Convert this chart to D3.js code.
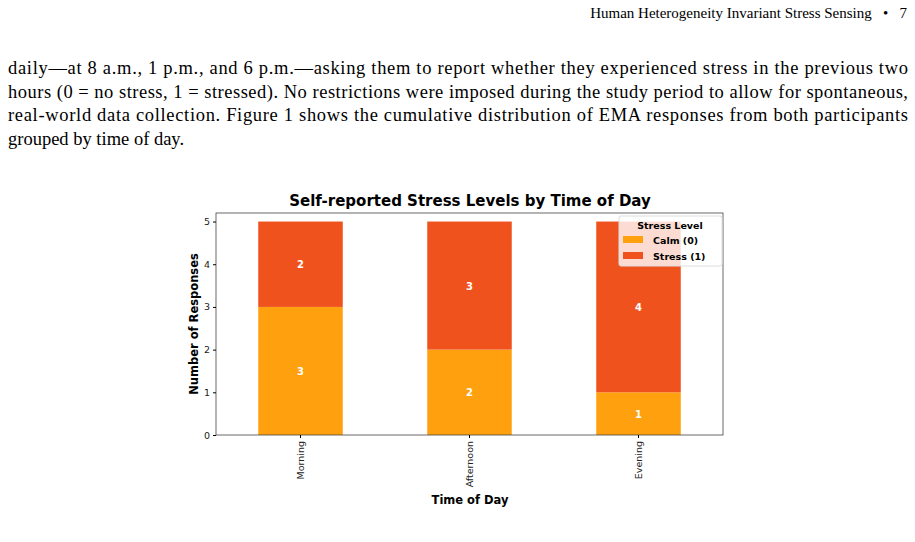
<!DOCTYPE html>
<html><head><meta charset="utf-8">
<script src="https://cdn.jsdelivr.net/npm/d3@7"></script>
<style>body{margin:0;background:#fff}</style></head>
<body><svg id="c" width="915" height="542"></svg>
<script>
const categories=["Morning","Afternoon","Evening"];
const calm=[3,2,1];
const stress=[2,3,4];
const yTicks=[0,1,2,3,4,5];
const header="Human Heterogeneity Invariant Stress Sensing   •   7";
const bodyLines=[
 "daily—at 8 a.m., 1 p.m., and 6 p.m.—asking them to report whether they experienced stress in the previous two",
 "hours (0 = no stress, 1 = stressed). No restrictions were imposed during the study period to allow for spontaneous,",
 "real-world data collection. Figure 1 shows the cumulative distribution of EMA responses from both participants",
 "grouped by time of day."];
const svg=d3.select("#c");
const serif="'Liberation Serif','DejaVu Serif',serif";
svg.append("text").attr("x",907).attr("y",18).attr("text-anchor","end").attr("font-family",serif).attr("font-size",15).attr("xml:space","preserve").text(header);
bodyLines.forEach((t,i)=>{const e=svg.append("text").attr("x",8).attr("y",74+i*23.7).attr("font-family",serif).attr("font-size",18.5).text(t);
 if(i<3)e.attr("textLength",900).attr("lengthAdjust","spacing");});
const L=216,R=723,T=213,B=435;
const x=d3.scaleBand().domain(categories).range([L,R]).paddingInner(0.5).paddingOuter(0.25);
const y=d3.scaleLinear().domain([0,5.2]).range([B,T]);
const sans="'DejaVu Sans',sans-serif";
const g=svg.append("g");
categories.forEach((c,i)=>{
 const parts=[[0,calm[i],"#FFA00F"],[calm[i],calm[i]+stress[i],"#F0521E"]];
 parts.forEach(([a,b,col],k)=>{
  g.append("rect").attr("x",x(c)).attr("width",x.bandwidth()).attr("y",y(b)).attr("height",y(a)-y(b)).attr("fill",col);
  g.append("text").attr("x",x(c)+x.bandwidth()/2).attr("y",(y(a)+y(b))/2+4).attr("text-anchor","middle").attr("fill","#fff").attr("font-family",sans).attr("font-weight","bold").attr("font-size",10).text(k?stress[i]:calm[i]);
 });
});
svg.append("rect").attr("x",L).attr("y",T).attr("width",R-L).attr("height",B-T).attr("fill","none").attr("stroke","#444").attr("stroke-width",0.8);
const ya=svg.append("g").attr("transform",`translate(${L},0)`).call(d3.axisLeft(y).tickValues(yTicks).tickFormat(d3.format("d")).tickSize(3).tickPadding(3));
ya.select(".domain").remove();
ya.selectAll("text").attr("font-family",sans).attr("font-size",9.5).attr("fill","#222");
const xa=svg.append("g").attr("transform",`translate(0,${B})`).call(d3.axisBottom(x).tickSize(3));
xa.select(".domain").remove();
xa.selectAll("text").attr("font-family",sans).attr("font-size",9.5).attr("fill","#222").attr("text-anchor","end").attr("transform","rotate(-90)").attr("x",-6).attr("y",0).attr("dy","0.35em");
svg.append("text").attr("x",470).attr("y",206).attr("text-anchor","middle").attr("font-family",sans).attr("font-weight","bold").attr("font-size",15).text("Self-reported Stress Levels by Time of Day");
svg.append("text").attr("x",470).attr("y",504).attr("text-anchor","middle").attr("font-family",sans).attr("font-weight","bold").attr("font-size",11.5).text("Time of Day");
svg.append("text").attr("transform","translate(198,324) rotate(-90)").attr("text-anchor","middle").attr("font-family",sans).attr("font-weight","bold").attr("font-size",11.5).text("Number of Responses");
const lg=svg.append("g").attr("transform","translate(619,216)");
lg.append("rect").attr("width",103).attr("height",50).attr("rx",2).attr("fill","rgba(255,255,255,0.8)").attr("stroke","#ddd");
lg.append("text").attr("x",51).attr("y",13).attr("text-anchor","middle").attr("font-family",sans).attr("font-weight","bold").attr("font-size",9.5).text("Stress Level");
[["Calm (0)","#FFA00F"],["Stress (1)","#F0521E"]].forEach(([t,c],i)=>{
 lg.append("rect").attr("x",4).attr("y",20+i*16).attr("width",20).attr("height",7).attr("fill",c);
 lg.append("text").attr("x",34).attr("y",28+i*16).attr("font-family",sans).attr("font-weight","bold").attr("font-size",9.5).text(t);
});
</script></body></html>
